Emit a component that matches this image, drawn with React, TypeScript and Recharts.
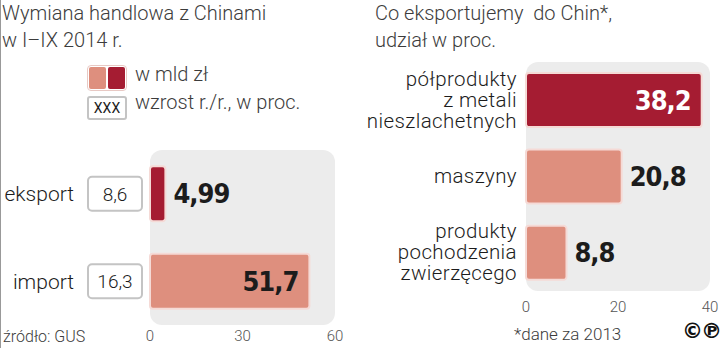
import React from "react";
import {
    BarChart,
    Bar,
    Cell,
    XAxis,
    YAxis,
    CartesianGrid,
    ReferenceArea,
    LabelList,
} from "recharts";

// Wymiana handlowa z Chinami, I-IX 2014
const tradeCategories = ["eksport", "import"];
const tradeValues = [4.99, 51.7]; // mld zł
const tradeGrowth = [8.6, 16.3]; // wzrost r./r., proc.
const tradeTicks = [0, 30, 60];

// Co eksportujemy do Chin (2013), udział w proc.
const shareCategories = [
    "półprodukty\nz metali\nnieszlachetnych",
    "maszyny",
    "produkty\npochodzenia\nzwierzęcego",
];
const shareValues = [38.2, 20.8, 8.8];
const shareTicks = [0, 20, 40];

const DARK = "#a51c32";
const LIGHT = "#de8f7e";
const PANEL = "#ececec";
const INK = "#1c1c1c";
const SOFT = "#3c3c3c";

const tradeColors = [DARK, LIGHT];
const shareColors = [DARK, LIGHT, LIGHT];

const LIGHT_FONT = "Roboto, 'Noto Sans', sans-serif";
const NUM_FONT = "'DejaVu Sans Condensed', 'DejaVu Sans', sans-serif";

const fmt = (v: number) => String(v).replace(".", ",");

const tradeData = tradeCategories.map((name, i) => ({
    name,
    value: tradeValues[i],
    growth: tradeGrowth[i],
}));
const shareData = shareCategories.map((name, i) => ({ name, value: shareValues[i] }));

const panelShape = (p: any) => (
    <rect x={p.x} y={p.y} width={p.width} height={p.height} rx={12} ry={12} fill={PANEL} />
);

function makeValueLabel(max: number, colors: string[]) {
    return (props: any) => {
        const { x, y, width, height, value, index } = props;
        const inside = value / max > 0.7;
        const fill = inside && colors[index] === DARK ? "#fff" : INK;
        return (
            <text
                x={inside ? x + width - 11 : x + width + 8}
                y={y + height / 2}
                dy="0.36em"
                textAnchor={inside ? "end" : "start"}
                fontFamily={NUM_FONT}
                fontWeight={700}
                fontSize={27}
                letterSpacing={-1}
                style={{ fontStretch: "condensed" }}
                fill={fill}
            >
                {fmt(value)}
            </text>
        );
    };
}

const TradeTick = (props: any) => {
    const { x, y, payload, index } = props;
    const i = index ?? tradeCategories.indexOf(payload.value);
    return (
        <g>
            <text x={x - 76} y={y} dy={7.5} textAnchor="end" fontFamily={LIGHT_FONT} fontWeight={300} fontSize={21} fill={INK}>
                {payload.value}
            </text>
            <rect x={x - 62} y={y - 17} width={54} height={34} rx={4} fill="#fff" stroke="#c4c4c4" strokeWidth={2} />
            <text x={x - 35} y={y} dy={7} textAnchor="middle" fontFamily={LIGHT_FONT} fontWeight={300} fontSize={19} fill={INK}>
                {fmt(tradeGrowth[i])}
            </text>
        </g>
    );
};

const ShareTick = (props: any) => {
    const { x, y, payload } = props;
    const lines = String(payload.value).split("\n");
    const first = y + 6.5 - ((lines.length - 1) / 2) * 21;
    return (
        <text textAnchor="end" fontFamily={LIGHT_FONT} fontWeight={300} fontSize={20.5} letterSpacing={0.4} fill={INK}>
            {lines.map((l, k) => (
                <tspan key={k} x={x - 9} y={first + k * 21}>
                    {l}
                </tspan>
            ))}
        </text>
    );
};

const axisTick = { fontFamily: LIGHT_FONT, fontWeight: 300, fontSize: 15, fill: "#555" };

export default function App() {
    return (
        <div
            style={{
                position: "absolute",
                left: 0,
                top: 0,
                width: 720,
                height: 348,
                background: "#fff",
                overflow: "hidden",
                fontFamily: LIGHT_FONT,
                color: SOFT,
            }}
        >
            <div style={{ position: "absolute", left: 0, top: 0, width: 1, height: 348, background: "#999" }} />

            {/* left titles + legend */}
            <div style={{ position: "absolute", left: 2, top: 0, fontSize: 20, fontWeight: 300, lineHeight: "27px" }}>
                Wymiana handlowa z Chinami
                <br />w I–IX 2014 r.
            </div>
            <div
                style={{
                    position: "absolute",
                    left: 87,
                    top: 65,
                    width: 36,
                    height: 22,
                    border: "1px solid #e8c9c4",
                    borderRadius: 4,
                    display: "flex",
                    gap: 2,
                    padding: 1,
                }}
            >
                <div style={{ flex: 1, background: LIGHT, borderRadius: 2 }} />
                <div style={{ flex: 1, background: DARK, borderRadius: 2 }} />
            </div>
            <div style={{ position: "absolute", left: 135, top: 62, fontSize: 20, fontWeight: 300 }}>w mld zł</div>
            <div
                style={{
                    position: "absolute",
                    left: 87,
                    top: 96,
                    width: 36,
                    height: 20,
                    border: "2px solid #c4c4c4",
                    borderRadius: 3,
                    fontSize: 14,
                    lineHeight: "20px",
                    textAlign: "center",
                    color: INK,
                }}
            >
                XXX
            </div>
            <div style={{ position: "absolute", left: 135, top: 90, fontSize: 20, fontWeight: 300 }}>
                wzrost r./r., w proc.
            </div>

            <div style={{ position: "absolute", left: 0, top: 0 }}>
                <BarChart
                    width={360}
                    height={348}
                    data={tradeData}
                    layout="vertical"
                    margin={{ top: 150, right: 25, bottom: 3, left: 0 }}
                    barCategoryGap="18.5%"
                >
                    <ReferenceArea x1={tradeTicks[0]} x2={tradeTicks[tradeTicks.length - 1]} shape={panelShape} />
                    <CartesianGrid horizontal={false} verticalValues={[tradeTicks[1]]} stroke="#9a9a9a" />
                    <XAxis
                        type="number"
                        domain={[tradeTicks[0], tradeTicks[tradeTicks.length - 1]]}
                        ticks={tradeTicks}
                        interval={0}
                        axisLine={false}
                        tickLine={false}
                        tickSize={0}
                        tickMargin={5}
                        height={20}
                        tick={axisTick}
                    />
                    <YAxis
                        type="category"
                        dataKey="name"
                        width={150}
                        axisLine={false}
                        tickLine={false}
                        tickSize={0}
                        tickMargin={0}
                        tick={TradeTick}
                    />
                    <Bar dataKey="value" isAnimationActive={false} radius={3} stroke="#f5dad6" strokeWidth={2}>
                        {tradeData.map((_, i) => (
                            <Cell key={i} fill={tradeColors[i]} />
                        ))}
                        <LabelList dataKey="value" content={makeValueLabel(60, tradeColors)} />
                    </Bar>
                </BarChart>
            </div>

            {/* right titles */}
            <div style={{ position: "absolute", left: 375, top: 0, fontSize: 20, fontWeight: 300, lineHeight: "27px" }}>
                Co eksportujemy&nbsp; do Chin*,
                <br />
                udział w proc.
            </div>

            <div style={{ position: "absolute", left: 360, top: 0 }}>
                <BarChart
                    width={360}
                    height={348}
                    data={shareData}
                    layout="vertical"
                    margin={{ top: 62, right: 10, bottom: 37, left: 0 }}
                    barCategoryGap="14.5%"
                >
                    <ReferenceArea x1={shareTicks[0]} x2={shareTicks[shareTicks.length - 1]} shape={panelShape} />
                    <CartesianGrid horizontal={false} verticalValues={[shareTicks[1]]} stroke="#9a9a9a" />
                    <XAxis
                        type="number"
                        domain={[shareTicks[0], shareTicks[shareTicks.length - 1]]}
                        ticks={shareTicks}
                        interval={0}
                        axisLine={false}
                        tickLine={false}
                        tickSize={0}
                        tickMargin={10}
                        height={20}
                        tick={axisTick}
                    />
                    <YAxis
                        type="category"
                        dataKey="name"
                        width={166}
                        axisLine={false}
                        tickLine={false}
                        tickSize={0}
                        tickMargin={0}
                        tick={ShareTick}
                    />
                    <Bar dataKey="value" isAnimationActive={false} radius={3} stroke="#f5dad6" strokeWidth={2}>
                        {shareData.map((_, i) => (
                            <Cell key={i} fill={shareColors[i]} />
                        ))}
                        <LabelList dataKey="value" content={makeValueLabel(40, shareColors)} />
                    </Bar>
                </BarChart>
            </div>

            {/* footers */}
            <div style={{ position: "absolute", left: 3, top: 327, fontSize: 16, fontWeight: 300 }}>źródło: GUS</div>
            <div style={{ position: "absolute", left: 514, top: 324, fontSize: 17, fontWeight: 300 }}>*dane za 2013</div>
            <div
                style={{
                    position: "absolute",
                    left: 682,
                    top: 319,
                    fontSize: 21,
                    fontWeight: 700,
                    fontFamily: "'DejaVu Sans', sans-serif",
                    color: "#111",
                    letterSpacing: -2,
                }}
            >
                ©℗
            </div>
        </div>
    );
}
